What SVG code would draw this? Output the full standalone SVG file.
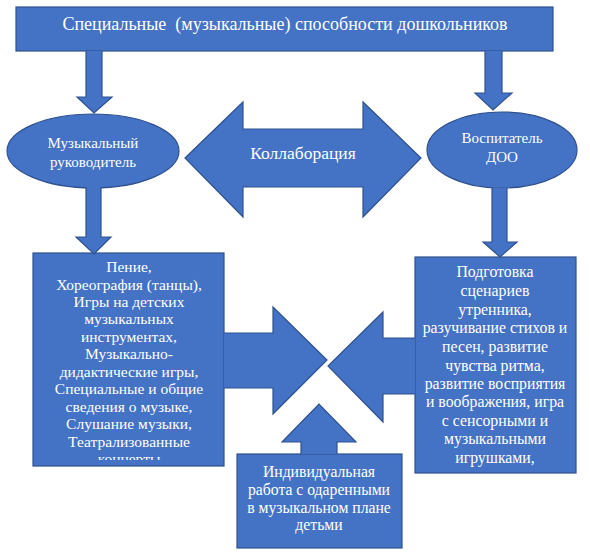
<svg xmlns="http://www.w3.org/2000/svg" width="590" height="560" viewBox="0 0 590 560">
<style>
.shape{fill:#4472C4;stroke:#2F528F;stroke-width:1.2}
.arrow{fill:#4472C4;stroke:#2F528F;stroke-width:1.2;stroke-linejoin:miter}
.lbl{font-family:'Liberation Serif','DejaVu Serif',serif;fill:#FFFFFF;text-anchor:middle;white-space:pre}
.tTop{font-size:18px}
.tCol{font-size:17.5px}
.tEl{font-size:15px}
.tL{font-size:15.5px}
.tR{font-size:15.8px}
.tB{font-size:15.7px}
</style>
<defs>
<clipPath id="clipLeft"><rect x="33" y="253" width="191" height="207"/></clipPath>
</defs>
<rect width="590" height="560" fill="#FFFFFF"/>

<g id="top">
<rect class="shape" x="16" y="7" width="537" height="44"/>
<text class="lbl tTop" x="285" y="30" font-family="Liberation Serif, serif">Специальные  (музыкальные) способности дошкольников</text>
</g>

<g id="music-director" class="lbl tEl" font-family="Liberation Serif, serif">
<ellipse class="shape" cx="93" cy="151" rx="86" ry="37"/>
<text x="93" y="148">Музыкальный</text>
<text x="93" y="167">руководитель</text>
</g>

<g id="teacher" class="lbl tEl" font-family="Liberation Serif, serif">
<ellipse class="shape" cx="502" cy="150" rx="75" ry="38"/>
<text x="502" y="143">Воспитатель</text>
<text x="502" y="162">ДОО</text>
</g>

<g id="collab" class="lbl tCol" font-family="Liberation Serif, serif">
<polygon class="shape" points="185,158 243,102 243,129 363,129 363,102 421,158 363,217 363,187 243,187 243,217"/>
<text x="303" y="159">Коллаборация</text>
</g>

<g id="left-box" class="lbl tL" font-family="Liberation Serif, serif">
<rect class="shape" x="33" y="253" width="191" height="213"/>
<g clip-path="url(#clipLeft)">
<text x="129" y="272">Пение,</text>
<text x="129" y="290">Хореография (танцы),</text>
<text x="129" y="307">Игры на детских</text>
<text x="129" y="324">музыкальных</text>
<text x="129" y="342">инструментах,</text>
<text x="129" y="359">Музыкально-</text>
<text x="129" y="377">дидактические игры,</text>
<text x="129" y="394">Специальные и общие</text>
<text x="129" y="412">сведения о музыке,</text>
<text x="129" y="429">Слушание музыки,</text>
<text x="129" y="447">Театрализованные</text>
<text x="129" y="464">концерты</text>
</g>
</g>

<g id="right-box" class="lbl tR" font-family="Liberation Serif, serif">
<rect class="shape" x="415" y="257" width="161" height="216"/>
<text x="495" y="277">Подготовка</text>
<text x="495" y="296">сценариев</text>
<text x="495" y="315">утренника,</text>
<text x="495" y="333">разучивание стихов и</text>
<text x="495" y="352">песен,  развитие</text>
<text x="495" y="371">чувства ритма,</text>
<text x="495" y="389">развитие восприятия</text>
<text x="495" y="407">и воображения, игра</text>
<text x="495" y="426">с сенсорными  и</text>
<text x="495" y="444">музыкальными</text>
<text x="495" y="463">игрушками,</text>
</g>

<g id="bottom-box" class="lbl tB" font-family="Liberation Serif, serif">
<rect class="shape" x="237" y="454" width="165" height="94"/>
<text x="319" y="477">Индивидуальная</text>
<text x="319" y="495">работа с одаренными</text>
<text x="319" y="513">в музыкальном плане</text>
<text x="319" y="530">детьми</text>
</g>

<g id="connectors">
<path class="arrow" d="M86,51 L86,97 L77,97 L94,113 L112,97 L102,97 L102,51"/>
<path class="arrow" d="M485,51 L485,93 L475,93 L493,110 L512,93 L502,93 L502,51"/>
<path class="arrow" d="M86,187 L86,237 L76,237 L94,254 L111,237 L101,237 L101,187"/>
<path class="arrow" d="M492,188 L492,242 L483,242 L500,257 L517,242 L507,242 L507,188"/>
<path class="arrow" d="M224,333 L273,333 L273,307 L327,360 L273,414 L273,388 L224,388"/>
<path class="arrow" d="M415,338 L383,338 L383,312 L328,366 L383,422 L383,394 L415,394"/>
<path class="arrow" d="M301,454 L301,442 L282,442 L319,404 L356,442 L337,442 L337,454"/>
</g>
</svg>
